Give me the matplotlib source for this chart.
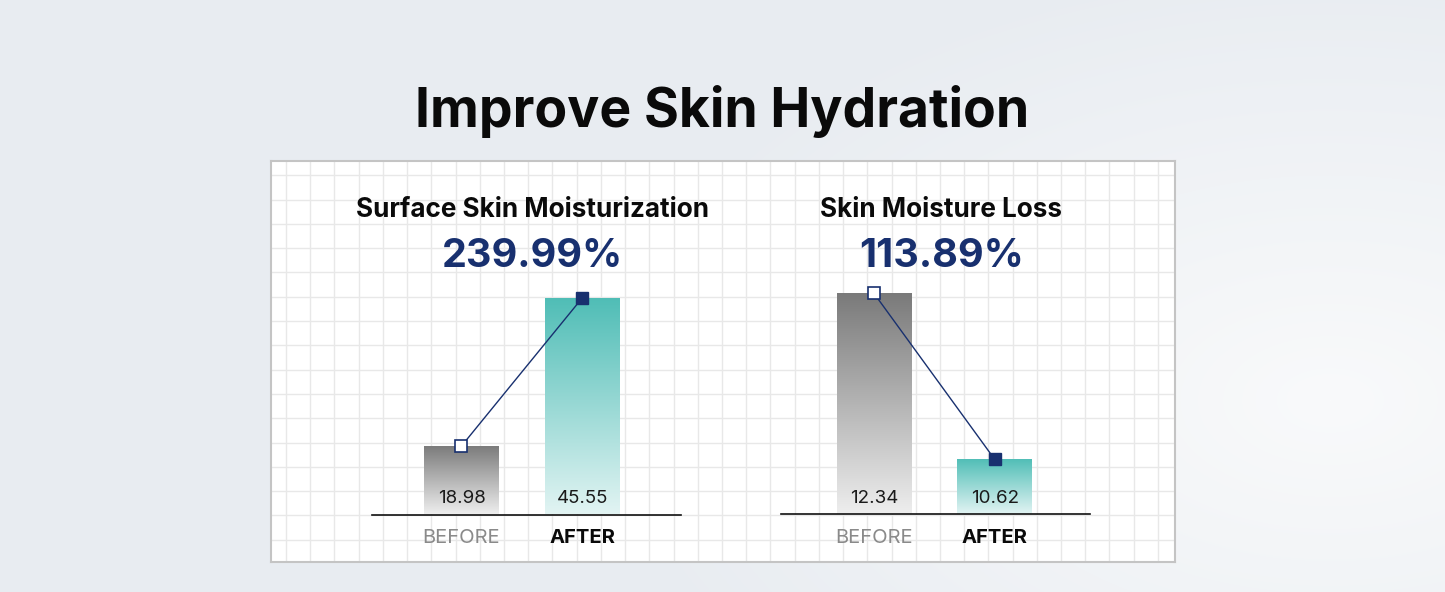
import matplotlib.pyplot as plt
import numpy as np
from matplotlib.colors import LinearSegmentedColormap, to_rgb

plt.rcParams['font.family'] = ['Inter', 'DejaVu Sans']

# Data
main_title = "Improve Skin Hydration"
chart_titles = ["Surface Skin Moisturization", "Skin Moisture Loss"]
change_labels = ["239.99%", "113.89%"]
categories = ["BEFORE", "AFTER"]
moisturization = [18.98, 45.55]
moisture_loss = [12.34, 10.62]
# value at the baseline of each chart (the bars are cut there)
y_floor = [6.71, 10.05]

NAVY = '#18306f'
W, H = 1445, 592
fig = plt.figure(figsize=(W / 100, H / 100), dpi=100)


def box(x0, y0, x1, y1):
    # pixel box (top-left origin) -> figure fraction rect
    return [x0 / W, 1 - y1 / H, (x1 - x0) / W, (y1 - y0) / H]


def fx(x):
    return x / W


def fy(y):
    return 1 - y / H


# Background, soft light patch on the right
bg = fig.add_axes([0, 0, 1, 1])
bg.axis('off')
yy, xx = np.mgrid[0:H, 0:W]
t = np.clip(np.hypot((xx - 1330) / 750, (yy - 400) / 450), 0, 1)
base = np.array(to_rgb('#e8ecf1'))
light = np.array(to_rgb('#f9fafb'))
bg.imshow(light + (base - light) * t[..., None], extent=(0, W, H, 0), aspect='auto')

# White panel with grid
panel = fig.add_axes(box(271, 161, 1175, 562))
panel.set_facecolor('white')
panel.set_xlim(271, 1175)
panel.set_ylim(562, 161)
for x in np.arange(286, 1175, 24.22):
    panel.axvline(x, color='#e8e8e8', lw=1)
for y in np.arange(175.2, 562, 24.3):
    panel.axhline(y, color='#e8e8e8', lw=1)
panel.set_xticks([])
panel.set_yticks([])
for s in panel.spines.values():
    s.set_color('#c4c4c4')
    s.set_linewidth(1.5)

fig.text(fx(722), fy(127), main_title, ha='center', va='baseline',
         fontsize=38.5, fontweight='bold', color='#0a0a0a')


def gradient_bars(ax, bars, cols, ylo):
    g = np.linspace(0, 1, 256).reshape(-1, 1)
    for b, (top, bot) in zip(bars, cols):
        cmap = LinearSegmentedColormap.from_list('g', [bot, top])
        x0 = b.get_x()
        im = ax.imshow(g, cmap=cmap, origin='lower', aspect='auto', zorder=1,
                       extent=(x0, x0 + b.get_width(), ylo, b.get_height()))
        im.set_clip_path(b)


def chart(rect, xlim, values, ylo, title, change, cx):
    ax = fig.add_axes(rect)
    ax.patch.set_alpha(0)
    x = np.arange(len(values))
    bars = ax.bar(x, values, width=0.62, color='none', edgecolor='none')
    gradient_bars(ax, bars, [('#7a7a7a', '#eeeeee'), ('#4fbdb6', '#e2f4f3')], ylo)
    ax.set_xlim(*xlim)
    ax.set_ylim(ylo, max(values))

    ax.plot(x, values, color=NAVY, lw=1, zorder=3, clip_on=False)
    ax.plot(x[0], values[0], 's', ms=8.6, mfc='white', mec=NAVY, mew=1.2,
            zorder=4, clip_on=False)
    ax.plot(x[1], values[1], 's', ms=8.6, mfc=NAVY, mec=NAVY,
            zorder=4, clip_on=False)

    for i, v in enumerate(values):
        ax.annotate(f"{v:.2f}", (i, ylo), xytext=(0, 8.1), textcoords='offset points',
                    ha='center', va='baseline', fontsize=13.5, color='#1a1a1a', zorder=5)
        ax.annotate(categories[i], (i, ylo), xytext=(0, -20.7), textcoords='offset points',
                    ha='center', va='baseline', fontsize=14.5,
                    color='#8a8a8a' if i == 0 else '#0a0a0a',
                    fontweight='normal' if i == 0 else 'bold', annotation_clip=False)

    for s in ['top', 'left', 'right']:
        ax.spines[s].set_visible(False)
    ax.spines['bottom'].set_color('#111111')
    ax.spines['bottom'].set_linewidth(1.2)
    ax.set_xticks([])
    ax.set_yticks([])

    fig.text(fx(cx), fy(217), title, ha='center', va='baseline',
             fontsize=18.8, fontweight='bold', color='#0a0a0a')
    fig.text(fx(cx), fy(267.3), change, ha='center', va='baseline',
             fontsize=28.5, fontweight='bold', color=NAVY)


chart(box(372, 297.7, 681, 514.5), (-0.74, 1.815), moisturization, y_floor[0],
      chart_titles[0], change_labels[0], 532.7)
chart(box(781, 293.3, 1090, 514.3), (-0.77, 1.79), moisture_loss, y_floor[1],
      chart_titles[1], change_labels[1], 941.5)

fig.savefig('out.png', dpi=100)
